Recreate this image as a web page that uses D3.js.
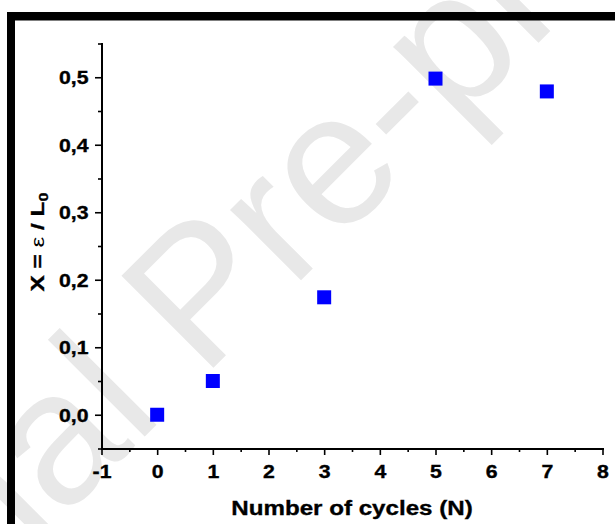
<!DOCTYPE html>
<html>
<head>
<meta charset="utf-8">
<script src="https://cdn.jsdelivr.net/npm/d3@7"></script>
<style>
  html, body { margin: 0; padding: 0; background: #ffffff; }
  svg { display: block; }
  .tick text { font-family: Arial, "Liberation Sans", sans-serif; font-weight: bold; fill: #000; }
</style>
</head>
<body>
<script>
// Number of loading cycles and the measured relative elongation X = ε / L0
const cycles = [0, 1, 3, 5, 7];
const strain = [0, 0.05, 0.174, 0.498, 0.479];

// Axis ticks and their printed labels (decimal comma)
const xTicks = [-1, 0, 1, 2, 3, 4, 5, 6, 7, 8];
const xTickLabels = ["-1", "0", "1", "2", "3", "4", "5", "6", "7", "8"];
const xMinorTicks = [-0.5, 0.5, 1.5, 2.5, 3.5, 4.5, 5.5, 6.5, 7.5];
const yTicks = [0, 0.1, 0.2, 0.3, 0.4, 0.5];
const yTickLabels = ["0,0", "0,1", "0,2", "0,3", "0,4", "0,5"];
const yMinorTicks = [-0.05, 0.05, 0.15, 0.25, 0.35, 0.45, 0.55];

const W = 615, H = 524;
const FONT = 'Arial, "Liberation Sans", sans-serif';

const svg = d3.select("body").append("svg")
  .attr("width", W).attr("height", H);

// Background watermark
svg.append("text")
  .attr("transform", "rotate(-45)")
  .attr("x", -797)
  .attr("y", 411)
  .attr("font-family", FONT)
  .attr("font-size", 189)
  .attr("fill", "#e8e8e8")
  .text("Journal Pre-proof");

// Heavy page frame along the top and left
svg.append("rect").attr("x", 7).attr("y", 12).attr("width", W - 7).attr("height", 8.5).attr("fill", "#000");
svg.append("rect").attr("x", 7).attr("y", 12).attr("width", 8).attr("height", H - 12).attr("fill", "#000");

const x = d3.scaleLinear().domain([-1, 8]).range([101.5, 602.5]);
const y = d3.scaleLinear().domain([-0.05, 0.55]).range([448.5, 43.5]);

const sxTick = 1.18;

// X axis: minor ticks, then major ticks with labels
const gxMinor = svg.append("g").attr("transform", `translate(0,${y.range()[0]})`)
  .call(d3.axisBottom(x).tickValues(xMinorTicks).tickSize(3.5).tickSizeOuter(0).tickFormat(""));
gxMinor.select(".domain").remove();

const gx = svg.append("g").attr("transform", `translate(0,${y.range()[0]})`)
  .call(d3.axisBottom(x).tickValues(xTicks).tickSize(6.5).tickSizeOuter(0)
    .tickFormat((d, i) => xTickLabels[i]));
gx.selectAll(".tick text")
  .attr("font-size", 18)
  .attr("y", 29.5).attr("dy", 0)
  .attr("transform", `scale(${sxTick},1)`);

// Y axis: minor ticks, then major ticks with labels
const gyMinor = svg.append("g").attr("transform", `translate(${x.range()[0]},0)`)
  .call(d3.axisLeft(y).tickValues(yMinorTicks).tickSize(3.5).tickSizeOuter(0).tickFormat(""));
gyMinor.select(".domain").remove();

const gy = svg.append("g").attr("transform", `translate(${x.range()[0]},0)`)
  .call(d3.axisLeft(y).tickValues(yTicks).tickSize(6.5).tickSizeOuter(0)
    .tickFormat((d, i) => yTickLabels[i]));
gy.selectAll(".tick text")
  .attr("font-size", 18)
  .attr("x", -13 / sxTick).attr("dy", "0.36em")
  .attr("transform", `scale(${sxTick},1)`);

// slightly heavier strokes on all labels
svg.selectAll(".tick text").attr("stroke", "#000").attr("stroke-width", 0.35);

svg.selectAll(".domain").attr("stroke", "#000").attr("stroke-width", 2).attr("stroke-linecap", "square");
svg.selectAll(".tick line").attr("stroke", "#000").attr("stroke-width", 1.6);

// Axis titles
svg.append("text")
  .attr("transform", `translate(${(x.range()[0] + x.range()[1]) / 2},515) scale(1.15,1)`)
  .attr("text-anchor", "middle")
  .attr("font-family", FONT).attr("font-weight", "bold").attr("font-size", 21)
  .attr("stroke", "#000").attr("stroke-width", 0.35)
  .text("Number of cycles (N)");

const yTitle = svg.append("text")
  .attr("transform", `translate(44,242) rotate(-90) scale(1.35,1)`)
  .attr("text-anchor", "middle")
  .attr("font-family", FONT).attr("font-weight", "bold").attr("font-size", 18)
  .attr("stroke", "#000").attr("stroke-width", 0.35);
yTitle.append("tspan").text("X = ");
yTitle.append("tspan").attr("font-weight", "normal").attr("stroke-width", 0).text("ε");
yTitle.append("tspan").text(" / L");
yTitle.append("tspan").attr("font-size", 12).attr("dy", 4).text("0");

// Data markers
svg.append("g").selectAll("rect")
  .data(cycles.map((c, i) => ({ c, v: strain[i] })))
  .join("rect")
  .attr("x", d => x(d.c) - 7)
  .attr("y", d => y(d.v) - 7)
  .attr("width", 14).attr("height", 14)
  .attr("fill", "#0000ff");
</script>
</body>
</html>
